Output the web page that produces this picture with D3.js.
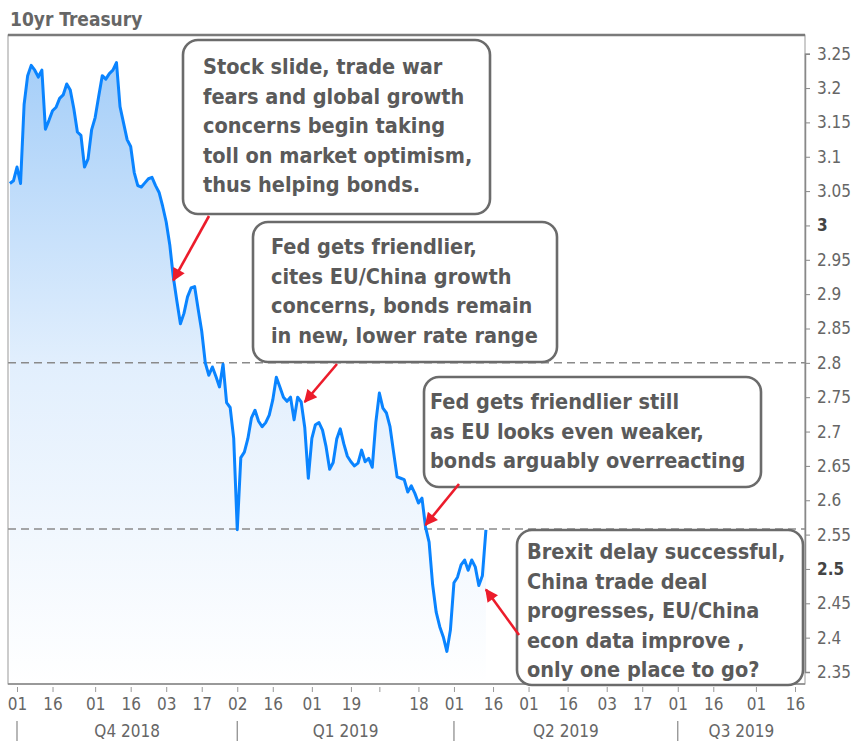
<!DOCTYPE html>
<html>
<head>
<meta charset="utf-8">
<script src="https://cdn.jsdelivr.net/npm/d3@7"></script>
<style>
  body { margin: 0; background: #fff; }
  text { font-family: "DejaVu Sans Condensed", "DejaVu Sans", sans-serif; }
</style>
</head>
<body>
<script>
// trading calendar (bond market) for the x axis
const firstDay = "2018-09-27";
const lastDay = "2019-08-19";
const holidays = [
  "2018-10-08", "2018-11-12", "2018-11-22", "2018-12-25", "2019-01-01",
  "2019-01-21", "2019-02-18", "2019-04-19", "2019-05-27", "2019-07-04",
];

// 10yr yield, one value per trading day from 2018-09-27
const yields = [
  3.061, 3.065, 3.085, 3.061, 3.176, 3.218, 3.233, 3.226, 3.216, 3.226,
  3.140, 3.153, 3.167, 3.172, 3.185, 3.190, 3.206, 3.197, 3.170, 3.136,
  3.131, 3.085, 3.097, 3.139, 3.157, 3.188, 3.218, 3.213, 3.221, 3.226,
  3.237, 3.173, 3.149, 3.125, 3.115, 3.077, 3.058, 3.056, 3.062, 3.068,
  3.070, 3.058, 3.048, 3.028, 3.005, 2.972, 2.925, 2.890, 2.857, 2.872,
  2.896, 2.909, 2.911, 2.878, 2.846, 2.800, 2.782, 2.794, 2.780, 2.765,
  2.798, 2.742, 2.735, 2.690, 2.557, 2.662, 2.670, 2.690, 2.720, 2.731,
  2.715, 2.707, 2.713, 2.724, 2.746, 2.779, 2.765, 2.750, 2.744, 2.750,
  2.717, 2.750, 2.743, 2.706, 2.632, 2.690, 2.710, 2.713, 2.702, 2.678,
  2.645, 2.655, 2.689, 2.704, 2.682, 2.664, 2.656, 2.650, 2.654, 2.673,
  2.656, 2.661, 2.648, 2.713, 2.756, 2.734, 2.727, 2.707, 2.670, 2.634,
  2.632, 2.630, 2.612, 2.621, 2.610, 2.596, 2.603, 2.561, 2.539, 2.477,
  2.437, 2.416, 2.401, 2.380, 2.411, 2.480, 2.488, 2.506, 2.513, 2.498,
  2.513, 2.503, 2.476, 2.490, 2.557,
];

const tickDates = [
  "2018-10-01", "2018-10-16", "2018-11-01", "2018-11-16", "2018-12-03",
  "2018-12-17", "2019-01-02", "2019-01-16", "2019-02-01", "2019-02-19",
  "2019-03-01", "2019-03-18", "2019-04-01", "2019-04-16", "2019-05-01",
  "2019-05-16", "2019-06-03", "2019-06-17", "2019-07-01", "2019-07-16",
  "2019-08-01", "2019-08-16",
];
const unlabeledTicks = ["2019-03-01"];
const quarterStarts = ["2018-10-01", "2019-01-02", "2019-04-01", "2019-07-01"];
const quarterLabels = ["Q4 2018", "Q1 2019", "Q2 2019", "Q3 2019"];

const yTicks = [2.35, 2.4, 2.45, 2.5, 2.55, 2.6, 2.65, 2.7, 2.75, 2.8,
  2.85, 2.9, 2.95, 3, 3.05, 3.1, 3.15, 3.2, 3.25];
const boldTicks = [3, 2.5];
const rangeLines = [2.8, 2.558];

const noteText = [
  ["Stock slide, trade war", "fears and global growth", "concerns begin taking",
    "toll on market optimism,", "thus helping bonds."],
  ["Fed gets friendlier,", "cites EU/China growth", "concerns, bonds remain",
    "in new, lower rate range"],
  ["Fed gets friendlier still", "as EU looks even weaker,", "bonds arguably overreacting"],
  ["Brexit delay successful,", "China trade deal", "progresses, EU/China",
    "econ data improve ,", "only one place to go?"],
];
const noteTargets = [
  ["2018-12-05", 2.92], ["2019-01-30", 2.743], ["2019-03-20", 2.564], ["2019-04-12", 2.47],
];

// layout
const W = 861, H = 743;
const frame = { left: 8, right: 805, top: 35, bottom: 684 };
const noteBoxes = [
  { x: 183, y: 40, w: 307, h: 174, dx: 20, dy: 34, tail: [209, 216] },
  { x: 253, y: 222, w: 304, h: 140, dx: 18, dy: 32, tail: [337, 364] },
  { x: 424, y: 377, w: 337, h: 110, dx: 6, dy: 32, tail: [459, 484] },
  { x: 517, y: 530, w: 286, h: 155, dx: 10, dy: 29, tail: [519, 635] },
];
const lineGap = 29.6;

const parse = d3.timeParse("%Y-%m-%d");
const fmt = d3.timeFormat("%Y-%m-%d");
const closed = new Set(holidays);
const days = d3.timeDay
  .range(parse(firstDay), d3.timeDay.offset(parse(lastDay), 1))
  .filter((d) => d.getDay() % 6 !== 0 && !closed.has(fmt(d)))
  .map(fmt);
const pos = new Map(days.map((d, i) => [d, i]));

const data = yields.map((v, i) => ({ i, v }));

const x = d3
  .scaleLinear()
  .domain([pos.get("2018-10-01"), pos.get("2019-08-16")])
  .range([17, 795]);

const y = d3.scaleLinear().domain([2.35, 3.25]).range([672, 53.7]);

const svg = d3
  .select("body")
  .append("svg")
  .attr("width", W)
  .attr("height", H);

const defs = svg.append("defs");
const grad = defs
  .append("linearGradient")
  .attr("id", "fade")
  .attr("gradientUnits", "userSpaceOnUse")
  .attr("x1", 0).attr("x2", 0)
  .attr("y1", 50).attr("y2", frame.bottom);
grad.append("stop").attr("offset", 0).attr("stop-color", "#a3cdf8");
grad.append("stop").attr("offset", 0.5).attr("stop-color", "#e2effd");
grad.append("stop").attr("offset", 1).attr("stop-color", "#ffffff");

defs
  .append("marker")
  .attr("id", "head")
  .attr("viewBox", "0 0 10 10")
  .attr("refX", 9)
  .attr("refY", 5)
  .attr("markerUnits", "userSpaceOnUse")
  .attr("markerWidth", 15)
  .attr("markerHeight", 13)
  .attr("orient", "auto")
  .append("path")
  .attr("d", "M0,0L10,5L0,10Z")
  .attr("fill", "#ec1c2b");

// title
svg
  .append("text")
  .attr("x", 10)
  .attr("y", 26)
  .attr("font-size", 19)
  .attr("font-weight", "bold")
  .attr("fill", "#666")
  .text("10yr Treasury");

// area + line
svg
  .append("path")
  .datum(data)
  .attr("fill", "url(#fade)")
  .attr(
    "d",
    d3.area().x((d) => x(d.i)).y0(frame.bottom).y1((d) => y(d.v))
  );

svg
  .selectAll(".range")
  .data(rangeLines)
  .join("line")
  .attr("x1", frame.left)
  .attr("x2", frame.right)
  .attr("y1", (d) => y(d))
  .attr("y2", (d) => y(d))
  .attr("stroke", "#8a8a8a")
  .attr("stroke-width", 1.5)
  .attr("stroke-dasharray", "8,5");

svg
  .append("path")
  .datum(data)
  .attr("fill", "none")
  .attr("stroke", "#0a84ff")
  .attr("stroke-width", 3)
  .attr("stroke-linejoin", "round")
  .attr("d", d3.line().x((d) => x(d.i)).y((d) => y(d.v)));

// frame
svg
  .append("rect")
  .attr("x", frame.left)
  .attr("y", frame.top)
  .attr("width", frame.right - frame.left)
  .attr("height", frame.bottom - frame.top)
  .attr("fill", "none")
  .attr("stroke", "#999")
  .attr("stroke-width", 1);
svg
  .append("line")
  .attr("x1", frame.left)
  .attr("x2", frame.right)
  .attr("y1", frame.top)
  .attr("y2", frame.top)
  .attr("stroke", "#7a7a7a")
  .attr("stroke-width", 2.5);
svg
  .append("line")
  .attr("x1", frame.left)
  .attr("x2", frame.right)
  .attr("y1", frame.bottom)
  .attr("y2", frame.bottom)
  .attr("stroke", "#888")
  .attr("stroke-width", 1.5);

// y axis on the right
const yAxis = d3.axisRight(y).tickValues(yTicks).tickSize(5).tickPadding(7)
  .tickFormat(d3.format(""));
const yg = svg
  .append("g")
  .attr("transform", `translate(${frame.right},0)`)
  .call(yAxis);
yg.select(".domain").attr("stroke", "#888").attr("stroke-width", 1.5);
yg.selectAll(".tick line").attr("stroke", "#888");
yg.selectAll(".tick text")
  .attr("font-size", 17)
  .attr("font-family", null)
  .attr("fill", (d) => (boldTicks.includes(d) ? "#444" : "#666"))
  .attr("font-weight", (d) => (boldTicks.includes(d) ? "bold" : null));

// x axis
const xAxis = d3
  .axisBottom(x)
  .tickValues(tickDates.map((d) => pos.get(d)))
  .tickSize(8)
  .tickPadding(6)
  .tickFormat((i) => (unlabeledTicks.includes(days[i]) ? "" : days[i].slice(8)));
const xg = svg
  .append("g")
  .attr("transform", `translate(0,${frame.bottom})`)
  .call(xAxis);
xg.select(".domain").remove();
xg.selectAll(".tick line").attr("y1", 3).attr("stroke", "#999");
xg.selectAll(".tick text")
  .attr("font-size", 17)
  .attr("font-family", null)
  .attr("fill", "#666");

// quarter row
const qx = quarterStarts.map((d) => x(pos.get(d)));
svg
  .selectAll(".qsep")
  .data(qx)
  .join("line")
  .attr("x1", (d) => d)
  .attr("x2", (d) => d)
  .attr("y1", 721)
  .attr("y2", 741)
  .attr("stroke", "#888")
  .attr("stroke-width", 1.2);
svg
  .selectAll(".qlab")
  .data(quarterLabels)
  .join("text")
  .attr("x", (d, k) => ((qx[k] + (k + 1 < qx.length ? qx[k + 1] : frame.right)) / 2))
  .attr("y", 737)
  .attr("text-anchor", "middle")
  .attr("font-size", 17)
  .attr("fill", "#666")
  .text((d) => d);

// annotations
const notes = svg
  .selectAll(".note")
  .data(noteBoxes)
  .join("g");
notes
  .append("rect")
  .attr("x", (b) => b.x)
  .attr("y", (b) => b.y)
  .attr("width", (b) => b.w)
  .attr("height", (b) => b.h)
  .attr("rx", 15)
  .attr("fill", "#fff")
  .attr("stroke", "#6b6b6b")
  .attr("stroke-width", 2.6);
notes
  .append("text")
  .attr("font-size", 21.5)
  .attr("font-weight", "bold")
  .attr("fill", "#5a5a5a")
  .selectAll("tspan")
  .data((b, k) => noteText[k].map((t) => ({ t, b })))
  .join("tspan")
  .attr("x", (d) => d.b.x + d.b.dx)
  .attr("y", (d, j) => d.b.y + d.b.dy + j * lineGap)
  .text((d) => d.t);

svg
  .selectAll(".arrow")
  .data(noteBoxes)
  .join("line")
  .attr("x1", (b) => b.tail[0])
  .attr("y1", (b) => b.tail[1])
  .attr("x2", (b, k) => x(pos.get(noteTargets[k][0])))
  .attr("y2", (b, k) => y(noteTargets[k][1]))
  .attr("stroke", "#ec1c2b")
  .attr("stroke-width", 2.6)
  .attr("marker-end", "url(#head)");
</script>
</body>
</html>
